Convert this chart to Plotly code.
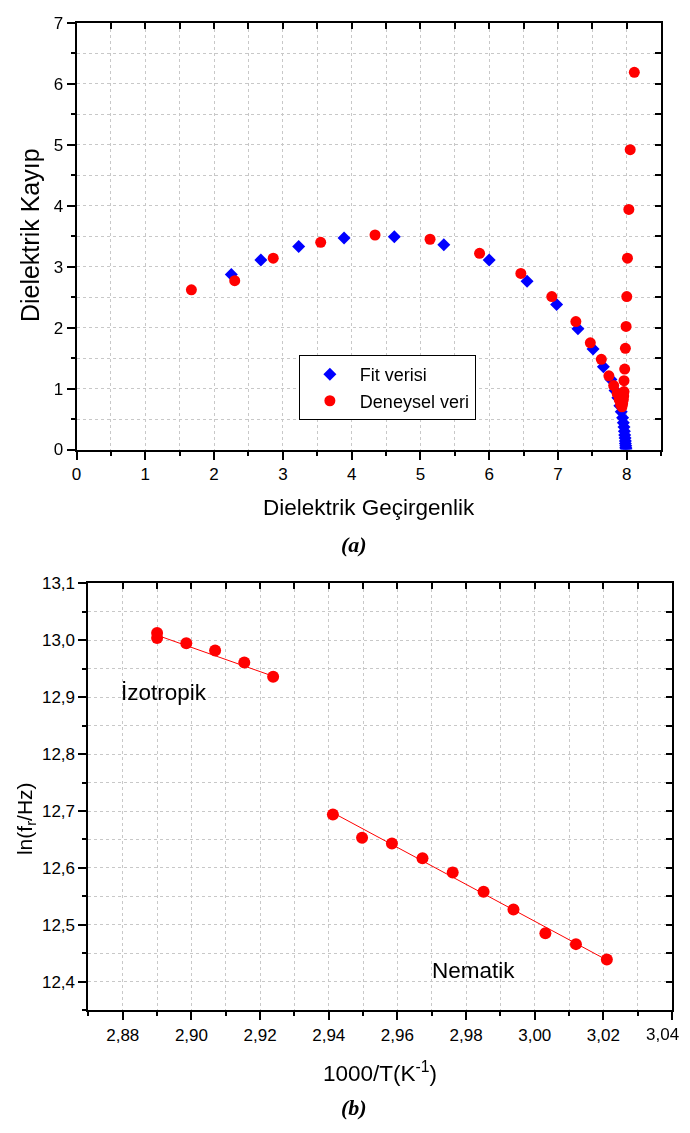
import plotly.graph_objects as go

# ---------------- Panel (a): Cole-Cole diagram ----------------
fit_x = [2.25, 2.68, 3.23, 3.89, 4.62, 5.34, 6.00, 6.55, 6.98, 7.29, 7.51, 7.66,
         7.77, 7.83, 7.87, 7.90, 7.92, 7.94, 7.95, 7.96, 7.965, 7.97, 7.975,
         7.98, 7.98, 7.985, 7.985, 7.99]
fit_y = [2.87, 3.11, 3.33, 3.47, 3.49, 3.36, 3.11, 2.76, 2.38, 1.98, 1.65, 1.36,
         1.15, 0.97, 0.85, 0.72, 0.62, 0.52, 0.44, 0.37, 0.30, 0.24, 0.19,
         0.14, 0.10, 0.06, 0.03, 0.01]

exp_x = [1.67, 2.30, 2.86, 3.55, 4.34, 5.14, 5.86, 6.46, 6.91, 7.26, 7.47, 7.63,
         7.74, 7.81, 7.86, 7.89, 7.91, 7.93, 7.94, 7.95, 7.955, 7.96, 7.96,
         7.97, 7.98, 7.99, 8.00, 8.01, 8.03, 8.05, 8.11]
exp_y = [2.62, 2.77, 3.14, 3.40, 3.52, 3.45, 3.22, 2.89, 2.51, 2.10, 1.75, 1.48,
         1.21, 1.05, 0.92, 0.82, 0.74, 0.70, 0.75, 0.82, 0.88, 0.95, 1.13,
         1.32, 1.66, 2.02, 2.51, 3.14, 3.94, 4.92, 6.19]

# ---------------- Panel (b): Arrhenius plot ----------------
iso_x = [2.890, 2.890, 2.8985, 2.9069, 2.9154, 2.9238]
iso_y = [13.013, 13.004, 12.995, 12.982, 12.961, 12.936]
iso_fit_x = [2.890, 2.9238]
iso_fit_y = [13.009, 12.937]

nem_x = [2.9412, 2.9497, 2.9584, 2.9673, 2.9761, 2.9851, 2.9938, 3.0031, 3.0120, 3.0210]
nem_y = [12.694, 12.653, 12.643, 12.617, 12.592, 12.558, 12.527, 12.485, 12.466, 12.439]
nem_fit_x = [2.9412, 3.0210]
nem_fit_y = [12.697, 12.438]

b_x_last_tick = 3.04          # edge tick label of panel (b), drawn right-aligned
b_x_last_label = "3,04"

# page is 690x1133; the html body keeps its default 8px margin
PAD = 8
W, H = 690 - 2 * PAD, 1133 - 2 * PAD


def px(p):
    return (p - PAD) / W


def py(p):
    return 1 - (p - PAD) / H


FONT = "Liberation Sans, Arial, sans-serif"
RED = "#FF0000"
BLUE = "#0000FF"
GRID = "#c8c8c8"
TICK = 17

fig = go.Figure()

fig.add_trace(go.Scatter(x=fit_x, y=fit_y, mode="markers", name="Fit verisi",
                         marker=dict(symbol="diamond", size=10, color=BLUE),
                         xaxis="x", yaxis="y"))
fig.add_trace(go.Scatter(x=exp_x, y=exp_y, mode="markers", name="Deneysel veri",
                         marker=dict(symbol="circle", size=11, color=RED),
                         xaxis="x", yaxis="y"))

for lx, ly in [(iso_fit_x, iso_fit_y), (nem_fit_x, nem_fit_y)]:
    fig.add_trace(go.Scatter(x=lx, y=ly, mode="lines", showlegend=False,
                             line=dict(color=RED, width=1), hoverinfo="skip",
                             xaxis="x2", yaxis="y2"))
for mx, my in [(iso_x, iso_y), (nem_x, nem_y)]:
    fig.add_trace(go.Scatter(x=mx, y=my, mode="markers", showlegend=False,
                             marker=dict(symbol="circle", size=12, color=RED),
                             xaxis="x2", yaxis="y2"))

# invisible traces so the mirrored (inside-tick) axes are drawn
fig.add_trace(go.Scatter(x=exp_x, y=exp_y, mode="markers", opacity=0, showlegend=False,
                         hoverinfo="skip", xaxis="x3", yaxis="y3"))
fig.add_trace(go.Scatter(x=nem_x, y=nem_y, mode="markers", opacity=0, showlegend=False,
                         hoverinfo="skip", xaxis="x4", yaxis="y4"))


def main_axis(domain, rng, dtick, mdtick, anchor, tick0, fmt):
    return dict(domain=domain, range=rng, dtick=dtick, tick0=tick0, tickformat=fmt,
                anchor=anchor, showline=True, linecolor="black", linewidth=2,
                mirror=True, ticks="outside", ticklen=8, tickwidth=2, tickcolor="black",
                showgrid=True, gridcolor=GRID, griddash="dot", gridwidth=1,
                zeroline=False,
                tickfont=dict(family=FONT, size=TICK, color="black"),
                minor=dict(dtick=mdtick, ticks="outside", ticklen=4, tickwidth=2,
                           tickcolor="black", showgrid=True, gridcolor=GRID,
                           griddash="dot", gridwidth=1))


def mirror_axis(over, side, anchor, rng, dtick, tick0):
    return dict(overlaying=over, side=side, anchor=anchor, range=rng, dtick=dtick,
                tick0=tick0, ticks="inside", ticklen=6, tickwidth=2, tickcolor="black",
                showticklabels=False, showgrid=False, zeroline=False, showline=False)


xa_dom = [px(72), px(661)]
ya_dom = [py(448), py(14)]
xb_dom = [px(84), px(672)]
yb_dom = [py(1018.3), py(584.3)]

fig.update_layout(
    width=W, height=H,
    margin=dict(l=0, r=0, t=0, b=0),
    paper_bgcolor="white", plot_bgcolor="white",
    separators=", ",
    font=dict(family=FONT, color="black"),
    xaxis=main_axis(xa_dom, [0, 8.5], 1, 0.5, "y", 0, "d"),
    yaxis=main_axis(ya_dom, [0, 7], 1, 0.5, "x", 0, "d"),
    xaxis2=main_axis(xb_dom, [2.87, 3.04], 0.02, 0.01, "y2", 2.88, ".2f"),
    yaxis2=main_axis(yb_dom, [12.35, 13.1], 0.1, 0.05, "x2", 12.4, ".1f"),
    xaxis3=mirror_axis("x", "top", "y", [0, 8.5], 0.5, 0),
    yaxis3=mirror_axis("y", "right", "x", [0, 7], 0.5, 0),
    xaxis4=mirror_axis("x2", "top", "y2", [2.87, 3.04], 0.01, 2.87),
    yaxis4=mirror_axis("y2", "right", "x2", [12.35, 13.1], 0.05, 12.35),
    showlegend=True,
    legend=dict(x=px(296), y=py(352), xanchor="left", yanchor="top",
                bgcolor="white", bordercolor="black", borderwidth=1,
                font=dict(family=FONT, size=18, color="black"),
                itemwidth=50, tracegroupgap=0),
)

ann = [
    dict(text="Dielektrik Geçirgenlik", x=367, y=507, size=22.5),
    dict(text="Dielektrik Kayıp", x=25, y=230, size=25, angle=-90),
    dict(text="1000/T(K<sup>-1</sup>)", x=378, y=1081, size=22.5),
    dict(text="ln(f<sub>r</sub>/Hz)", x=21, y=823, size=21, angle=-90),
]
for a in ann:
    fig.add_annotation(text=a["text"], x=px(a["x"]), y=py(a["y"]), xref="paper",
                       yref="paper", xanchor="center", yanchor="middle", showarrow=False,
                       textangle=a.get("angle", 0),
                       font=dict(family=FONT, size=a["size"], color="black"))

# last x tick label of panel (b) sits at the page edge: draw it right-aligned
fig.add_annotation(text=b_x_last_label, x=b_x_last_tick, y=py(1043.5), xref="x2",
                   yref="paper", xanchor="right", yanchor="middle", xshift=9,
                   showarrow=False, font=dict(family=FONT, size=TICK, color="black"))

for txt, yy in [("<b><i>(a)</i></b>", 545), ("<b><i>(b)</i></b>", 1117)]:
    fig.add_annotation(text=txt, x=px(352), y=py(yy), xref="paper", yref="paper",
                       xanchor="center", yanchor="middle", showarrow=False,
                       font=dict(family="Liberation Serif, Times New Roman, serif",
                                 size=22, color="black"))

fig.add_annotation(text="İzotropik", x=2.8921, y=12.909, xref="x2", yref="y2",
                   showarrow=False, xanchor="center", yanchor="middle",
                   font=dict(family=FONT, size=22.5, color="black"))
fig.add_annotation(text="Nematik", x=2.9823, y=12.419, xref="x2", yref="y2",
                   showarrow=False, xanchor="center", yanchor="middle",
                   font=dict(family=FONT, size=22.5, color="black"))

fig.write_html("out.html", config={"displayModeBar": False})
